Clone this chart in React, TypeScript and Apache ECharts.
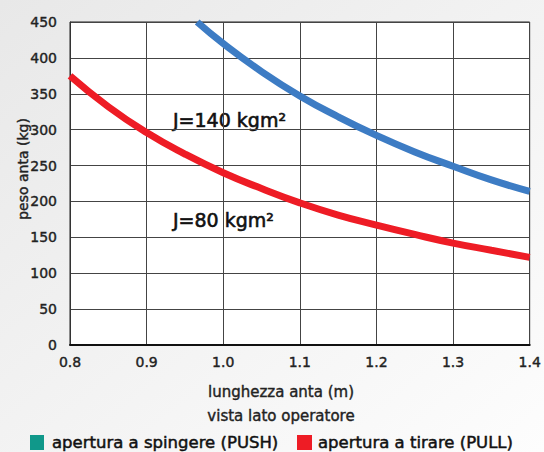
import React, { useEffect, useRef } from "react";
import * as echarts from "echarts";

const xTicks = [0.8, 0.9, 1.0, 1.1, 1.2, 1.3, 1.4];
const yTicks = [0, 50, 100, 150, 200, 250, 300, 350, 400, 450];

const pushX = [0.966, 1.0, 1.05, 1.1, 1.15, 1.2, 1.25, 1.3, 1.35, 1.4];
const pushY = [450, 420, 381, 347, 318, 292, 269, 249, 230, 214];

const pullX = [0.8, 0.85, 0.9, 0.95, 1.0, 1.05, 1.1, 1.15, 1.2, 1.25, 1.3, 1.35, 1.4];
const pullY = [375, 332, 296, 266, 240, 218, 198, 181, 167, 154, 142, 132, 122];

const legendNames = ["apertura a spingere (PUSH)", "apertura a tirare (PULL)"];
const legendColors = ["#10988a", "#ee1c25"];
const curveLabels = ["J=140 kgm²", "J=80 kgm²"];
const xAxisTitle = "lunghezza anta (m)";
const xAxisSubtitle = "vista lato operatore";
const yAxisTitle = "peso anta (kg)";

const FONT = "'DejaVu Sans', sans-serif";

const txt = (text: string, size: number, fill: string, bw: number) => ({
  text,
  font: `${size}px ${FONT}`,
  fill,
  stroke: fill,
  lineWidth: bw,
  verticalAlign: "middle",
});

export default function App() {
  const ref = useRef<HTMLDivElement>(null);
  useEffect(() => {
    const chart = echarts.init(ref.current!, null, { renderer: "svg" });
    chart.setOption({
      animation: false,
      backgroundColor: new echarts.graphic.LinearGradient(0, 0, 1, 1, [
        { offset: 0, color: "#e8e8e8" },
        { offset: 1, color: "#fdfdfd" },
      ]),
      textStyle: { fontFamily: FONT },
      grid: {
        left: 70,
        top: 22,
        right: 12,
        bottom: 107,
        show: true,
        backgroundColor: "#ffffff",
        borderColor: "#222",
        borderWidth: 1,
      },
      xAxis: {
        type: "value",
        min: 0.8,
        max: 1.4,
        interval: 0.1,
        axisLine: { show: true, lineStyle: { color: "#111", width: 2 } },
        axisTick: { show: false },
        splitLine: { show: true, lineStyle: { color: "#444", width: 1 } },
        axisLabel: {
          color: "#222",
          fontSize: 14,
          margin: 10,
          textBorderColor: "#222",
          textBorderWidth: 0.4,
          formatter: (v: number) => v.toFixed(1),
        },
      },
      yAxis: {
        type: "value",
        min: 0,
        max: 450,
        interval: 50,
        axisLine: { show: true, lineStyle: { color: "#333", width: 1 } },
        axisTick: { show: false },
        splitLine: { show: true, lineStyle: { color: "#444", width: 1 } },
        axisLabel: {
          color: "#222",
          fontSize: 14,
          margin: 13,
          textBorderColor: "#222",
          textBorderWidth: 0.4,
        },
      },
      series: [
        {
          type: "line",
          smooth: true,
          symbol: "none",
          clip: true,
          lineStyle: { color: "#3d7cc4", width: 7 },
          data: pushX.map((x, i) => [x, pushY[i]]),
        },
        {
          type: "line",
          smooth: true,
          symbol: "none",
          clip: true,
          lineStyle: { color: "#ee1c25", width: 7 },
          data: pullX.map((x, i) => [x, pullY[i]]),
        },
      ],
      graphic: [
        { type: "text", x: 173, y: 120, style: txt(curveLabels[0], 19, "#111", 0.6) },
        { type: "text", x: 173, y: 220, style: txt(curveLabels[1], 19, "#111", 0.6) },
        {
          type: "text",
          x: 23,
          y: 169,
          rotation: Math.PI / 2,
          style: { ...txt(yAxisTitle, 14, "#222", 0.4), align: "center" },
        },
        { type: "text", x: 281, y: 392, style: { ...txt(xAxisTitle, 15, "#222", 0.4), align: "center" } },
        { type: "text", x: 281, y: 416, style: { ...txt(xAxisSubtitle, 15, "#222", 0.4), align: "center" } },
        { type: "rect", shape: { x: 30, y: 435, width: 14, height: 15 }, style: { fill: legendColors[0] } },
        { type: "text", x: 52, y: 442, style: txt(legendNames[0], 16.5, "#111", 0.5) },
        { type: "rect", shape: { x: 297, y: 435, width: 15, height: 15 }, style: { fill: legendColors[1] } },
        { type: "text", x: 318, y: 442, style: txt(legendNames[1], 16.5, "#111", 0.5) },
      ],
    });
    return () => chart.dispose();
  }, []);
  return (
    <div
      ref={ref}
      style={{ position: "fixed", left: 0, top: 0, width: 544, height: 452 }}
    />
  );
}
